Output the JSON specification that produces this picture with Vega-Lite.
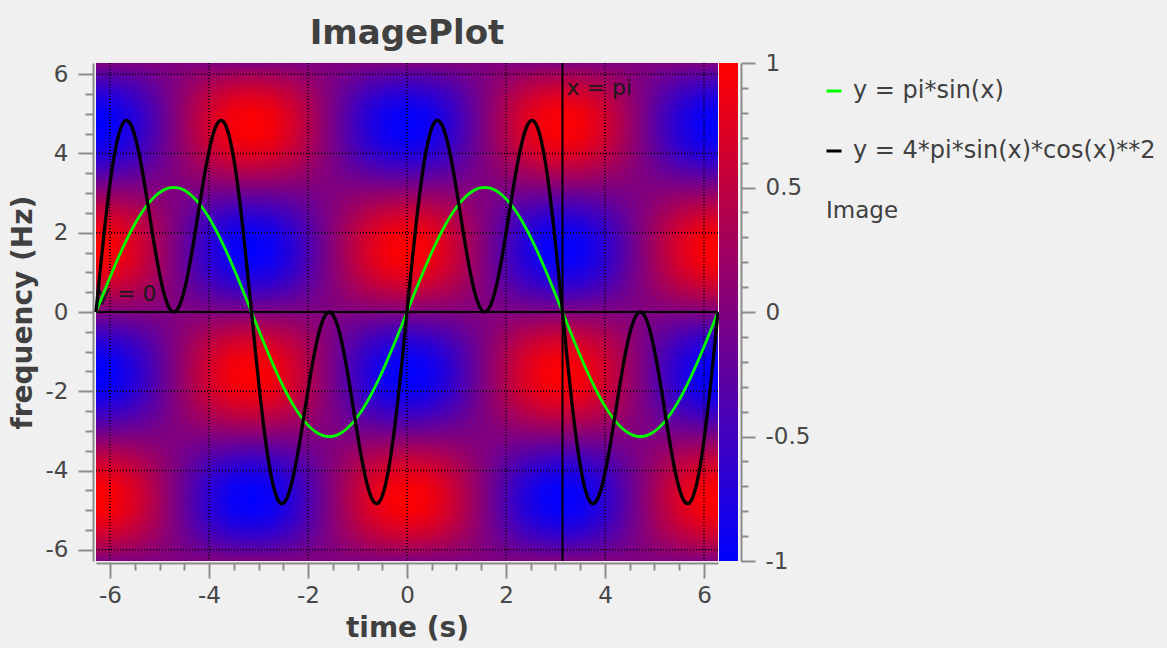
{
  "$schema": "https://vega.github.io/schema/vega-lite/v6.json",
  "width": 622,
  "height": 498,
  "autosize": {"type": "none"},
  "padding": {"left": 96, "top": 63, "right": 449, "bottom": 87},
  "background": "#f0f0f0",
  "title": {"text": "ImagePlot", "font": "DejaVu Sans", "fontSize": 34, "fontWeight": "bold", "color": "#404040", "anchor": "middle", "offset": 1},
  "config": {
    "font": "DejaVu Sans",
    "view": {"stroke": null, "fill": "#800080"},
    "axis": {"labelFont": "DejaVu Sans", "labelFontSize": 23, "labelColor": "#474747", "titleFont": "DejaVu Sans", "titleFontSize": 28, "titleFontWeight": "bold", "titleColor": "#404040", "domainColor": "#8c8c8c", "tickColor": "#8c8c8c", "domainWidth": 2, "tickWidth": 2, "grid": false, "labelFlush": false, "labelOverlap": false}
  },
  "datasets": {
    "grid": [{"g": -6}, {"g": -4}, {"g": -2}, {"g": 0}, {"g": 2}, {"g": 4}, {"g": 6}],
    "strips": [
      {"i":0,"s":0.038},{"i":1,"s":0.113},{"i":2,"s":0.188},{"i":3,"s":0.262},{"i":4,"s":0.334},{"i":5,"s":0.404},{"i":6,"s":0.472},{"i":7,"s":0.538},{"i":8,"s":0.6},{"i":9,"s":0.659},
      {"i":10,"s":0.714},{"i":11,"s":0.765},{"i":12,"s":0.811},{"i":13,"s":0.853},{"i":14,"s":0.89},{"i":15,"s":0.922},{"i":16,"s":0.949},{"i":17,"s":0.97},{"i":18,"s":0.986},{"i":19,"s":0.996},
      {"i":20,"s":1},{"i":21,"s":0.998},{"i":22,"s":0.991},{"i":23,"s":0.978},{"i":24,"s":0.96},{"i":25,"s":0.936},{"i":26,"s":0.907},{"i":27,"s":0.872},{"i":28,"s":0.833},{"i":29,"s":0.789},
      {"i":30,"s":0.74},{"i":31,"s":0.687},{"i":32,"s":0.63},{"i":33,"s":0.569},{"i":34,"s":0.505},{"i":35,"s":0.439},{"i":36,"s":0.37},{"i":37,"s":0.298},{"i":38,"s":0.225},{"i":39,"s":0.151},
      {"i":40,"s":0.076},{"i":41,"s":0},{"i":42,"s":-0.076},{"i":43,"s":-0.151},{"i":44,"s":-0.225},{"i":45,"s":-0.298},{"i":46,"s":-0.37},{"i":47,"s":-0.439},{"i":48,"s":-0.505},{"i":49,"s":-0.569},
      {"i":50,"s":-0.63},{"i":51,"s":-0.687},{"i":52,"s":-0.74},{"i":53,"s":-0.789},{"i":54,"s":-0.833},{"i":55,"s":-0.872},{"i":56,"s":-0.907},{"i":57,"s":-0.936},{"i":58,"s":-0.96},{"i":59,"s":-0.978},
      {"i":60,"s":-0.991},{"i":61,"s":-0.998},{"i":62,"s":-1},{"i":63,"s":-0.996},{"i":64,"s":-0.986},{"i":65,"s":-0.97},{"i":66,"s":-0.949},{"i":67,"s":-0.922},{"i":68,"s":-0.89},{"i":69,"s":-0.853},
      {"i":70,"s":-0.811},{"i":71,"s":-0.765},{"i":72,"s":-0.714},{"i":73,"s":-0.659},{"i":74,"s":-0.6},{"i":75,"s":-0.538},{"i":76,"s":-0.472},{"i":77,"s":-0.404},{"i":78,"s":-0.334},{"i":79,"s":-0.262},
      {"i":80,"s":-0.188},{"i":81,"s":-0.113},{"i":82,"s":-0.038},
      {"i":83,"s":0.038},{"i":84,"s":0.113},{"i":85,"s":0.188},{"i":86,"s":0.262},{"i":87,"s":0.334},{"i":88,"s":0.404},{"i":89,"s":0.472},{"i":90,"s":0.538},{"i":91,"s":0.6},{"i":92,"s":0.659},
      {"i":93,"s":0.714},{"i":94,"s":0.765},{"i":95,"s":0.811},{"i":96,"s":0.853},{"i":97,"s":0.89},{"i":98,"s":0.922},{"i":99,"s":0.949},{"i":100,"s":0.97},{"i":101,"s":0.986},{"i":102,"s":0.996},
      {"i":103,"s":1},{"i":104,"s":0.998},{"i":105,"s":0.991},{"i":106,"s":0.978},{"i":107,"s":0.96},{"i":108,"s":0.936},{"i":109,"s":0.907},{"i":110,"s":0.872},{"i":111,"s":0.833},{"i":112,"s":0.789},
      {"i":113,"s":0.74},{"i":114,"s":0.687},{"i":115,"s":0.63},{"i":116,"s":0.569},{"i":117,"s":0.505},{"i":118,"s":0.439},{"i":119,"s":0.37},{"i":120,"s":0.298},{"i":121,"s":0.225},{"i":122,"s":0.151},
      {"i":123,"s":0.076},{"i":124,"s":0},{"i":125,"s":-0.076},{"i":126,"s":-0.151},{"i":127,"s":-0.225},{"i":128,"s":-0.298},{"i":129,"s":-0.37},{"i":130,"s":-0.439},{"i":131,"s":-0.505},{"i":132,"s":-0.569},
      {"i":133,"s":-0.63},{"i":134,"s":-0.687},{"i":135,"s":-0.74},{"i":136,"s":-0.789},{"i":137,"s":-0.833},{"i":138,"s":-0.872},{"i":139,"s":-0.907},{"i":140,"s":-0.936},{"i":141,"s":-0.96},{"i":142,"s":-0.978},
      {"i":143,"s":-0.991},{"i":144,"s":-0.998},{"i":145,"s":-1},{"i":146,"s":-0.996},{"i":147,"s":-0.986},{"i":148,"s":-0.97},{"i":149,"s":-0.949},{"i":150,"s":-0.922},{"i":151,"s":-0.89},{"i":152,"s":-0.853},
      {"i":153,"s":-0.811},{"i":154,"s":-0.765},{"i":155,"s":-0.714},{"i":156,"s":-0.659},{"i":157,"s":-0.6},{"i":158,"s":-0.538},{"i":159,"s":-0.472},{"i":160,"s":-0.404},{"i":161,"s":-0.334},{"i":162,"s":-0.262},
      {"i":163,"s":-0.188},{"i":164,"s":-0.113},{"i":165,"s":-0.038}
    ],
    "curve": [
      {"x":-6.2832,"p":0,"q":0},{"x":-6.1959,"p":0.274,"q":1.087},{"x":-6.1087,"p":0.546,"q":2.116},{"x":-6.0214,"p":0.813,"q":3.035},{"x":-5.9341,"p":1.074,"q":3.795},{"x":-5.8469,"p":1.328,"q":4.362},
      {"x":-5.7596,"p":1.571,"q":4.712},{"x":-5.6723,"p":1.802,"q":4.836},{"x":-5.5851,"p":2.019,"q":4.74},{"x":-5.4978,"p":2.221,"q":4.443},{"x":-5.4105,"p":2.407,"q":3.977},{"x":-5.3233,"p":2.573,"q":3.387},
      {"x":-5.236,"p":2.721,"q":2.721},{"x":-5.1487,"p":2.847,"q":2.034},{"x":-5.0615,"p":2.952,"q":1.381},{"x":-4.9742,"p":3.035,"q":0.813},{"x":-4.8869,"p":3.094,"q":0.373},{"x":-4.7997,"p":3.13,"q":0.095},
      {"x":-4.7124,"p":3.142,"q":0},{"x":-4.6251,"p":3.13,"q":0.095},{"x":-4.5379,"p":3.094,"q":0.373},{"x":-4.4506,"p":3.035,"q":0.813},{"x":-4.3633,"p":2.952,"q":1.381},{"x":-4.2761,"p":2.847,"q":2.034},
      {"x":-4.1888,"p":2.721,"q":2.721},{"x":-4.1015,"p":2.573,"q":3.387},{"x":-4.0143,"p":2.407,"q":3.977},{"x":-3.927,"p":2.221,"q":4.443},{"x":-3.8397,"p":2.019,"q":4.74},{"x":-3.7525,"p":1.802,"q":4.836},
      {"x":-3.6652,"p":1.571,"q":4.712},{"x":-3.5779,"p":1.328,"q":4.362},{"x":-3.4907,"p":1.074,"q":3.795},{"x":-3.4034,"p":0.813,"q":3.035},{"x":-3.3161,"p":0.546,"q":2.116},{"x":-3.2289,"p":0.274,"q":1.087},
      {"x":-3.1416,"p":0,"q":0},{"x":-3.0543,"p":-0.274,"q":-1.087},{"x":-2.9671,"p":-0.546,"q":-2.116},{"x":-2.8798,"p":-0.813,"q":-3.035},{"x":-2.7925,"p":-1.074,"q":-3.795},{"x":-2.7053,"p":-1.328,"q":-4.362},
      {"x":-2.618,"p":-1.571,"q":-4.712},{"x":-2.5307,"p":-1.802,"q":-4.836},{"x":-2.4435,"p":-2.019,"q":-4.74},{"x":-2.3562,"p":-2.221,"q":-4.443},{"x":-2.2689,"p":-2.407,"q":-3.977},{"x":-2.1817,"p":-2.573,"q":-3.387},
      {"x":-2.0944,"p":-2.721,"q":-2.721},{"x":-2.0071,"p":-2.847,"q":-2.034},{"x":-1.9199,"p":-2.952,"q":-1.381},{"x":-1.8326,"p":-3.035,"q":-0.813},{"x":-1.7453,"p":-3.094,"q":-0.373},{"x":-1.6581,"p":-3.13,"q":-0.095},
      {"x":-1.5708,"p":-3.142,"q":0},{"x":-1.4835,"p":-3.13,"q":-0.095},{"x":-1.3963,"p":-3.094,"q":-0.373},{"x":-1.309,"p":-3.035,"q":-0.813},{"x":-1.2217,"p":-2.952,"q":-1.381},{"x":-1.1345,"p":-2.847,"q":-2.034},
      {"x":-1.0472,"p":-2.721,"q":-2.721},{"x":-0.9599,"p":-2.573,"q":-3.387},{"x":-0.8727,"p":-2.407,"q":-3.977},{"x":-0.7854,"p":-2.221,"q":-4.443},{"x":-0.6981,"p":-2.019,"q":-4.74},{"x":-0.6109,"p":-1.802,"q":-4.836},
      {"x":-0.5236,"p":-1.571,"q":-4.712},{"x":-0.4363,"p":-1.328,"q":-4.362},{"x":-0.3491,"p":-1.074,"q":-3.795},{"x":-0.2618,"p":-0.813,"q":-3.035},{"x":-0.1745,"p":-0.546,"q":-2.116},{"x":-0.0873,"p":-0.274,"q":-1.087},
      {"x":0,"p":0,"q":0},{"x":0.0873,"p":0.274,"q":1.087},{"x":0.1745,"p":0.546,"q":2.116},{"x":0.2618,"p":0.813,"q":3.035},{"x":0.3491,"p":1.074,"q":3.795},{"x":0.4363,"p":1.328,"q":4.362},
      {"x":0.5236,"p":1.571,"q":4.712},{"x":0.6109,"p":1.802,"q":4.836},{"x":0.6981,"p":2.019,"q":4.74},{"x":0.7854,"p":2.221,"q":4.443},{"x":0.8727,"p":2.407,"q":3.977},{"x":0.9599,"p":2.573,"q":3.387},
      {"x":1.0472,"p":2.721,"q":2.721},{"x":1.1345,"p":2.847,"q":2.034},{"x":1.2217,"p":2.952,"q":1.381},{"x":1.309,"p":3.035,"q":0.813},{"x":1.3963,"p":3.094,"q":0.373},{"x":1.4835,"p":3.13,"q":0.095},
      {"x":1.5708,"p":3.142,"q":0},{"x":1.6581,"p":3.13,"q":0.095},{"x":1.7453,"p":3.094,"q":0.373},{"x":1.8326,"p":3.035,"q":0.813},{"x":1.9199,"p":2.952,"q":1.381},{"x":2.0071,"p":2.847,"q":2.034},
      {"x":2.0944,"p":2.721,"q":2.721},{"x":2.1817,"p":2.573,"q":3.387},{"x":2.2689,"p":2.407,"q":3.977},{"x":2.3562,"p":2.221,"q":4.443},{"x":2.4435,"p":2.019,"q":4.74},{"x":2.5307,"p":1.802,"q":4.836},
      {"x":2.618,"p":1.571,"q":4.712},{"x":2.7053,"p":1.328,"q":4.362},{"x":2.7925,"p":1.074,"q":3.795},{"x":2.8798,"p":0.813,"q":3.035},{"x":2.9671,"p":0.546,"q":2.116},{"x":3.0543,"p":0.274,"q":1.087},
      {"x":3.1416,"p":0,"q":0},{"x":3.2289,"p":-0.274,"q":-1.087},{"x":3.3161,"p":-0.546,"q":-2.116},{"x":3.4034,"p":-0.813,"q":-3.035},{"x":3.4907,"p":-1.074,"q":-3.795},{"x":3.5779,"p":-1.328,"q":-4.362},
      {"x":3.6652,"p":-1.571,"q":-4.712},{"x":3.7525,"p":-1.802,"q":-4.836},{"x":3.8397,"p":-2.019,"q":-4.74},{"x":3.927,"p":-2.221,"q":-4.443},{"x":4.0143,"p":-2.407,"q":-3.977},{"x":4.1015,"p":-2.573,"q":-3.387},
      {"x":4.1888,"p":-2.721,"q":-2.721},{"x":4.2761,"p":-2.847,"q":-2.034},{"x":4.3633,"p":-2.952,"q":-1.381},{"x":4.4506,"p":-3.035,"q":-0.813},{"x":4.5379,"p":-3.094,"q":-0.373},{"x":4.6251,"p":-3.13,"q":-0.095},
      {"x":4.7124,"p":-3.142,"q":0},{"x":4.7997,"p":-3.13,"q":-0.095},{"x":4.8869,"p":-3.094,"q":-0.373},{"x":4.9742,"p":-3.035,"q":-0.813},{"x":5.0615,"p":-2.952,"q":-1.381},{"x":5.1487,"p":-2.847,"q":-2.034},
      {"x":5.236,"p":-2.721,"q":-2.721},{"x":5.3233,"p":-2.573,"q":-3.387},{"x":5.4105,"p":-2.407,"q":-3.977},{"x":5.4978,"p":-2.221,"q":-4.443},{"x":5.5851,"p":-2.019,"q":-4.74},{"x":5.6723,"p":-1.802,"q":-4.836},
      {"x":5.7596,"p":-1.571,"q":-4.712},{"x":5.8469,"p":-1.328,"q":-4.362},{"x":5.9341,"p":-1.074,"q":-3.795},{"x":6.0214,"p":-0.813,"q":-3.035},{"x":6.1087,"p":-0.546,"q":-2.116},{"x":6.1959,"p":-0.274,"q":-1.087},
      {"x":6.2832,"p":0,"q":0}
    ]
  },
  "layer": [
    {
      "data": {"name": "strips"},
      "mark": {"type": "rect"},
      "encoding": {
        "y": {"field": "i", "type": "ordinal", "scale": {"reverse": true, "paddingInner": 0, "paddingOuter": 0}, "axis": null},
        "opacity": {"field": "s", "type": "quantitative", "scale": {"type": "linear", "domain": [-1, 0, 1], "range": [1, 0, 1], "zero": false, "nice": false}, "legend": null},
        "fill": {
          "condition": {"test": "datum.s < 0", "value": {"gradient": "linear", "x1": 0, "y1": 0, "x2": 1, "y2": 0, "stops": [
            {"offset": 0, "color": "#0000ff"}, {"offset": 0.03125, "color": "#0a00f5"}, {"offset": 0.0625, "color": "#2500da"}, {"offset": 0.09375, "color": "#4f00b0"},
            {"offset": 0.125, "color": "#800080"}, {"offset": 0.15625, "color": "#b0004f"}, {"offset": 0.1875, "color": "#da0025"}, {"offset": 0.21875, "color": "#f5000a"},
            {"offset": 0.25, "color": "#ff0000"}, {"offset": 0.28125, "color": "#f5000a"}, {"offset": 0.3125, "color": "#da0025"}, {"offset": 0.34375, "color": "#b0004f"},
            {"offset": 0.375, "color": "#800080"}, {"offset": 0.40625, "color": "#4f00b0"}, {"offset": 0.4375, "color": "#2500da"}, {"offset": 0.46875, "color": "#0a00f5"},
            {"offset": 0.5, "color": "#0000ff"}, {"offset": 0.53125, "color": "#0a00f5"}, {"offset": 0.5625, "color": "#2500da"}, {"offset": 0.59375, "color": "#4f00b0"},
            {"offset": 0.625, "color": "#800080"}, {"offset": 0.65625, "color": "#b0004f"}, {"offset": 0.6875, "color": "#da0025"}, {"offset": 0.71875, "color": "#f5000a"},
            {"offset": 0.75, "color": "#ff0000"}, {"offset": 0.78125, "color": "#f5000a"}, {"offset": 0.8125, "color": "#da0025"}, {"offset": 0.84375, "color": "#b0004f"},
            {"offset": 0.875, "color": "#800080"}, {"offset": 0.90625, "color": "#4f00b0"}, {"offset": 0.9375, "color": "#2500da"}, {"offset": 0.96875, "color": "#0a00f5"},
            {"offset": 1, "color": "#0000ff"}]}},
          "value": {"gradient": "linear", "x1": 0, "y1": 0, "x2": 1, "y2": 0, "stops": [
            {"offset": 0, "color": "#ff0000"}, {"offset": 0.03125, "color": "#f5000a"}, {"offset": 0.0625, "color": "#da0025"}, {"offset": 0.09375, "color": "#b0004f"},
            {"offset": 0.125, "color": "#800080"}, {"offset": 0.15625, "color": "#4f00b0"}, {"offset": 0.1875, "color": "#2500da"}, {"offset": 0.21875, "color": "#0a00f5"},
            {"offset": 0.25, "color": "#0000ff"}, {"offset": 0.28125, "color": "#0a00f5"}, {"offset": 0.3125, "color": "#2500da"}, {"offset": 0.34375, "color": "#4f00b0"},
            {"offset": 0.375, "color": "#800080"}, {"offset": 0.40625, "color": "#b0004f"}, {"offset": 0.4375, "color": "#da0025"}, {"offset": 0.46875, "color": "#f5000a"},
            {"offset": 0.5, "color": "#ff0000"}, {"offset": 0.53125, "color": "#f5000a"}, {"offset": 0.5625, "color": "#da0025"}, {"offset": 0.59375, "color": "#b0004f"},
            {"offset": 0.625, "color": "#800080"}, {"offset": 0.65625, "color": "#4f00b0"}, {"offset": 0.6875, "color": "#2500da"}, {"offset": 0.71875, "color": "#0a00f5"},
            {"offset": 0.75, "color": "#0000ff"}, {"offset": 0.78125, "color": "#0a00f5"}, {"offset": 0.8125, "color": "#2500da"}, {"offset": 0.84375, "color": "#4f00b0"},
            {"offset": 0.875, "color": "#800080"}, {"offset": 0.90625, "color": "#b0004f"}, {"offset": 0.9375, "color": "#da0025"}, {"offset": 0.96875, "color": "#f5000a"},
            {"offset": 1, "color": "#ff0000"}]}
        }
      }
    },
    {
      "layer": [
        {
          "data": {"name": "grid"},
          "mark": {"type": "rule", "color": "#000000", "strokeWidth": 1.5, "strokeDash": [1, 2]},
          "encoding": {
            "x": {"field": "g", "type": "quantitative", "scale": {"domain": [-6.28319, 6.28319], "nice": false, "zero": false},
              "axis": {"orient": "bottom", "values": [-6, -4, -2, 0, 2, 4, 6], "offset": 2, "tickSize": 15, "labelPadding": 6, "title": "time (s)", "titlePadding": 7, "labelExpr": "replace(datum.label, '\u2212', '-')"}}
          }
        },
        {
          "data": {"name": "grid"},
          "mark": {"type": "rule", "color": "#000000", "strokeWidth": 1.5, "strokeDash": [1, 2]},
          "encoding": {
            "y": {"field": "g", "type": "quantitative", "scale": {"domain": [-6.28319, 6.28319], "nice": false, "zero": false},
              "axis": {"orient": "left", "values": [-6, -4, -2, 0, 2, 4, 6], "offset": 3, "tickSize": 15, "labelPadding": 10, "title": "frequency (Hz)", "titlePadding": 8, "labelExpr": "replace(datum.label, '\u2212', '-')"}}
          }
        },
        {
          "data": {"values": [{"y": 0}]},
          "mark": {"type": "rule", "color": "#000000", "strokeWidth": 2},
          "encoding": {"y": {"field": "y", "type": "quantitative", "axis": null}}
        },
        {
          "data": {"values": [{"x": 3.14159}]},
          "mark": {"type": "rule", "color": "#000000", "strokeWidth": 2},
          "encoding": {"x": {"field": "x", "type": "quantitative", "axis": null}}
        },
        {
          "data": {"values": [{"x": -6.28319, "y": 0, "t": "y = 0"}]},
          "mark": {"type": "text", "align": "left", "baseline": "alphabetic", "dx": 1, "dy": -11, "fontSize": 22, "color": "#1a1a1a", "font": "DejaVu Sans"},
          "encoding": {"x": {"field": "x", "type": "quantitative", "axis": null}, "y": {"field": "y", "type": "quantitative", "axis": null}, "text": {"field": "t"}}
        },
        {
          "data": {"values": [{"x": 3.14159, "y": 6.28319, "t": "x = pi"}]},
          "mark": {"type": "text", "align": "left", "baseline": "alphabetic", "dx": 4, "dy": 32, "fontSize": 22, "color": "#1a1a1a", "font": "DejaVu Sans"},
          "encoding": {"x": {"field": "x", "type": "quantitative", "axis": null}, "y": {"field": "y", "type": "quantitative", "axis": null}, "text": {"field": "t"}}
        },
        {
          "data": {"name": "curve"},
          "mark": {"type": "line", "strokeWidth": 2.8, "interpolate": "monotone"},
          "encoding": {
            "x": {"field": "x", "type": "quantitative", "axis": {"orient": "bottom", "values": [-5.5, -5, -4.5, -3.5, -3, -2.5, -1.5, -1, -0.5, 0.5, 1, 1.5, 2.5, 3, 3.5, 4.5, 5, 5.5], "offset": 2, "tickSize": 7, "labels": false, "domain": false, "title": null}},
            "y": {"field": "p", "type": "quantitative", "axis": {"orient": "left", "values": [-5.5, -5, -4.5, -3.5, -3, -2.5, -1.5, -1, -0.5, 0.5, 1, 1.5, 2.5, 3, 3.5, 4.5, 5, 5.5], "offset": 3, "tickSize": 8, "labels": false, "domain": false, "title": null}},
            "color": {"datum": "p", "type": "nominal", "scale": {"domain": ["p", "q"], "range": ["#00ff00", "#000000"]},
              "legend": {"orient": "none", "legendX": 730, "legendY": 16, "padding": 0, "rowPadding": 36, "labelOffset": 7, "symbolOffset": -4, "labelFont": "DejaVu Sans", "labelFontSize": 24, "labelColor": "#404040", "labelLimit": 600,
                "symbolType": "stroke", "symbolSize": 225, "symbolStrokeWidth": 3,
                "title": "Image", "titleOrient": "bottom", "titleAnchor": "start", "titleFont": "DejaVu Sans", "titleFontSize": 23, "titleFontWeight": "normal", "titleColor": "#404040", "titlePadding": 37,
                "labelExpr": "datum.label == 'p' ? 'y = pi*sin(x)' : 'y = 4*pi*sin(x)*cos(x)**2'"}}
          }
        },
        {
          "data": {"name": "curve"},
          "mark": {"type": "line", "strokeWidth": 3.3, "interpolate": "monotone"},
          "encoding": {
            "x": {"field": "x", "type": "quantitative", "axis": null},
            "y": {"field": "q", "type": "quantitative", "axis": null},
            "color": {"datum": "q", "type": "nominal"}
          }
        }
      ],
      "resolve": {"axis": {"x": "independent", "y": "independent"}}
    },
    {
      "data": {"values": [{"lo": -1, "hi": 1}]},
      "layer": [
        {
          "mark": {"type": "rect", "color": {"gradient": "linear", "x1": 0, "y1": 1, "x2": 0, "y2": 0, "stops": [{"offset": 0, "color": "#0000ff"}, {"offset": 1, "color": "#ff0000"}]}},
          "encoding": {
            "x": {"datum": 6.3034, "type": "quantitative", "scale": {"domain": [-6.28319, 6.28319], "nice": false, "zero": false}, "axis": null},
            "x2": {"datum": 6.6872},
            "y": {"field": "lo", "type": "quantitative", "scale": {"domain": [-1, 1], "nice": false, "zero": false},
              "axis": {"orient": "right", "values": [-1, -0.5, 0, 0.5, 1], "format": "~g", "offset": 23, "tickSize": 14, "labelPadding": 10, "title": null, "labelExpr": "replace(datum.label, '\u2212', '-')"}},
            "y2": {"field": "hi"}
          }
        },
        {
          "mark": {"type": "rule", "strokeOpacity": 0},
          "encoding": {
            "y": {"field": "lo", "type": "quantitative", "axis": {"orient": "right", "values": [-0.9, -0.8, -0.7, -0.6, -0.4, -0.3, -0.2, -0.1, 0.1, 0.2, 0.3, 0.4, 0.6, 0.7, 0.8, 0.9], "offset": 23, "tickSize": 7, "labels": false, "domain": false, "title": null}}
          }
        }
      ],
      "resolve": {"axis": {"y": "independent"}}
    }
  ],
  "resolve": {"scale": {"y": "independent"}, "axis": {"x": "independent", "y": "independent"}}
}
